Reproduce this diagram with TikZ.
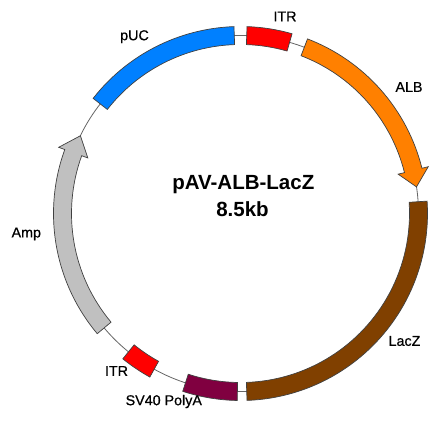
\documentclass[tikz,border=0pt]{standalone}
\usepackage{fontspec}
\setmainfont{Liberation Sans}
\newfontfamily\lblfont{Liberation Sans}[FakeBold=0.6]
\begin{document}
\begin{tikzpicture}[x=1pt,y=1pt,
  feat/.style={draw=black!75, line width=0.7pt, line join=miter},
  lbl/.style={font=\lblfont\fontsize{14.3}{16}\selectfont, inner sep=0pt},
  ttl/.style={font=\fontsize{20.5}{23}\selectfont\bfseries, inner sep=0pt}]
\useasboundingbox (0,0) rectangle (442,421);
\fill[white] (0,0) rectangle (442,421);
\coordinate (C) at (240.5,207.5);
\def\ro{187}\def\ri{169}\def\rr{178}
\def\ho{193.5}\def\hi{162.5}
% backbone
\draw[black!60, line width=0.8pt] (C) circle[radius=\rr];
\begin{scope}[shift={(C)}]
% pUC
\draw[feat, fill={rgb,255:red,0;green,128;blue,255}]
  (142:\ro) arc[start angle=142,end angle=92,radius=\ro] -- (92:\ri)
  arc[start angle=92,end angle=142,radius=\ri] -- cycle;
% ITR top
\draw[feat, fill=red]
  (88:\ro) arc[start angle=88,end angle=74,radius=\ro] -- (74:\ri)
  arc[start angle=74,end angle=88,radius=\ri] -- cycle;
% ALB arrow
\draw[feat, fill={rgb,255:red,255;green,128;blue,0}]
  (69:\ro) arc[start angle=69,end angle=14,radius=\ro] -- (14:\ho) -- (8.6:\rr) -- (14:\hi) -- (14:\ri)
  arc[start angle=14,end angle=69,radius=\ri] -- cycle;
% LacZ
\draw[feat, fill={rgb,255:red,128;green,64;blue,0}]
  (3.8:\ro) arc[start angle=3.8,end angle=-88,radius=\ro] -- (-88:\ri)
  arc[start angle=-88,end angle=3.8,radius=\ri] -- cycle;
% SV40 PolyA
\draw[feat, fill={rgb,255:red,128;green,0;blue,64}]
  (-91:\ro) arc[start angle=-91,end angle=-108,radius=\ro] -- (-108:\ri)
  arc[start angle=-108,end angle=-91,radius=\ri] -- cycle;
% ITR bottom
\draw[feat, fill=red]
  (-119:\ro) arc[start angle=-119,end angle=-129,radius=\ro] -- (-129:\ri)
  arc[start angle=-129,end angle=-119,radius=\ri] -- cycle;
% Amp arrow
\draw[feat, fill={rgb,255:red,192;green,192;blue,192}]
  (220:\ro) arc[start angle=220,end angle=160,radius=\ro] -- (160:\ho) -- (154.1:\rr) -- (160:\hi) -- (160:\ri)
  arc[start angle=160,end angle=220,radius=\ri] -- cycle;
\end{scope}
% labels
\node[lbl] (lpuc) at (134.5,384.3) {pUC};
\node[lbl] (litr1) at (285,404.5) {ITR};
\node[lbl] (lalb) at (409,334) {ALB};
\node[lbl] (llacz) at (404.5,80) {LacZ};
\node[lbl] (lamp) at (26.3,187) {Amp};
\node[lbl] (litr2) at (116.5,50) {ITR};
\node[lbl] (lsv) at (163.8,19.5) {SV40 PolyA};
\node[ttl] (title) at (243.3,236) {pAV-ALB-LacZ};
\node[ttl] (size) at (242.5,212) {8.5kb};
\end{tikzpicture}
\end{document}
